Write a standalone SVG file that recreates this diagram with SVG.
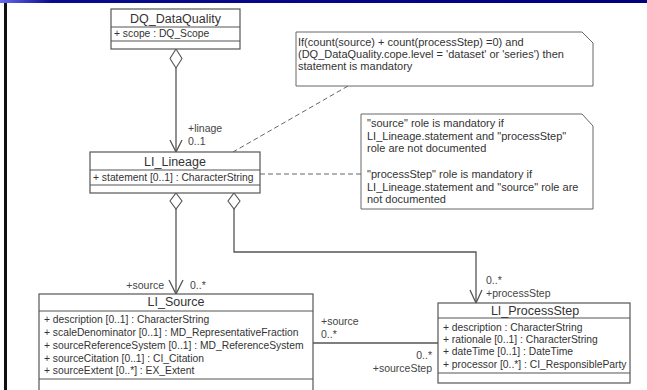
<svg xmlns="http://www.w3.org/2000/svg" width="647" height="390" viewBox="0 0 647 390">
  <style>
    .box { fill: #ffffff; stroke: #555555; stroke-width: 1.2; }
    .div { stroke: #555555; stroke-width: 1.2; fill: none; }
    .title { font-family: "Liberation Sans", Arial, sans-serif; font-size: 12.5px; fill: #333333; text-anchor: middle; }
    .attr { font-family: "Liberation Sans", Arial, sans-serif; font-size: 10.3px; fill: #333333; }
    .note { font-family: "Liberation Sans", Arial, sans-serif; font-size: 11px; fill: #333333; }
    .role { font-family: "Liberation Sans", Arial, sans-serif; font-size: 10.5px; fill: #444444; }
    .end { text-anchor: end; }
    .link { stroke: #555555; stroke-width: 1.3; fill: none; }
    .dash { stroke: #666666; stroke-width: 1; fill: none; stroke-dasharray: 5 3; }
    .diamond { fill: #ffffff; stroke: #555555; stroke-width: 1.1; }
    .notebox { fill: #ffffff; stroke: #666666; stroke-width: 1; }
  </style>
  <defs>
    <linearGradient id="band" x1="0" y1="0" x2="1" y2="0">
      <stop offset="0" stop-color="#6a6af0"/>
      <stop offset="0.08" stop-color="#0a0a8c"/>
      <stop offset="1" stop-color="#00007f"/>
    </linearGradient>
  </defs>

  <rect x="0" y="0" width="647" height="390" fill="#ffffff"/>
  <!-- frame: top band and left rule -->
  <rect x="0" y="0" width="647" height="3" fill="url(#band)"/>
  <rect x="4" y="3" width="3" height="387" fill="#111111"/>

  <!-- connectors -->
  <g id="connectors">
    <!-- DQ_DataQuality to LI_Lineage -->
    <line class="link" x1="176" y1="68" x2="176" y2="152"/>
    <polyline class="link" points="170,140 176,152 182,140"/>
    <path class="diamond" d="M176,49 L182,58.5 L176,68 L170,58.5 Z"/>
    <!-- LI_Lineage to LI_Source -->
    <line class="link" x1="176" y1="209" x2="176" y2="294"/>
    <polyline class="link" points="169,280 176,294 183,280"/>
    <path class="diamond" d="M176,193 L182,201 L176,209 L170,201 Z"/>
    <!-- LI_Lineage to LI_ProcessStep -->
    <polyline class="link" points="234,209 234,252 476,252 476,303"/>
    <polyline class="link" points="470,290 476,303 482,290"/>
    <path class="diamond" d="M234,193 L240,201 L234,209 L228,201 Z"/>
    <!-- LI_Source to LI_ProcessStep -->
    <line class="link" x1="313" y1="343" x2="438" y2="343"/>
    <!-- note anchors -->
    <line class="dash" x1="348" y1="86" x2="233" y2="152"/>
    <line class="dash" x1="260" y1="174" x2="361" y2="174"/>

    <!-- role labels -->
    <text class="role" x="188" y="132">+linage</text>
    <text class="role" x="188" y="145">0..1</text>
    <text class="role end" x="164" y="289">+source</text>
    <text class="role" x="190" y="289">0..*</text>
    <text class="role" x="486" y="284">0..*</text>
    <text class="role" x="486" y="297">+processStep</text>
    <text class="role" x="321" y="325">+source</text>
    <text class="role" x="321" y="338">0..*</text>
    <text class="role end" x="432" y="359">0..*</text>
    <text class="role end" x="432" y="372">+sourceStep</text>
  </g>

  <!-- classes -->
  <g id="DQ_DataQuality">
    <rect class="box" x="111" y="9" width="129" height="40"/>
    <line class="div" x1="111" y1="27" x2="240" y2="27"/>
    <line class="div" x1="111" y1="41" x2="240" y2="41"/>
    <text class="title" x="175.5" y="23">DQ_DataQuality</text>
    <text class="attr" x="114" y="37">+ scope : DQ_Scope</text>
  </g>

  <g id="LI_Lineage">
    <rect class="box" x="90" y="152" width="170" height="41"/>
    <line class="div" x1="90" y1="170" x2="260" y2="170"/>
    <line class="div" x1="90" y1="185" x2="260" y2="185"/>
    <text class="title" x="175" y="166">LI_Lineage</text>
    <text class="attr" x="93" y="181">+ statement [0..1] : CharacterString</text>
  </g>

  <g id="LI_Source">
    <rect class="box" x="39" y="294" width="274" height="100"/>
    <line class="div" x1="39" y1="311" x2="313" y2="311"/>
    <line class="div" x1="39" y1="379" x2="313" y2="379"/>
    <text class="title" x="176" y="306">LI_Source</text>
    <text class="attr" x="44" y="323">+ description [0..1] : CharacterString</text>
    <text class="attr" x="44" y="336">+ scaleDenominator [0..1] : MD_RepresentativeFraction</text>
    <text class="attr" x="44" y="349">+ sourceReferenceSystem [0..1] : MD_ReferenceSystem</text>
    <text class="attr" x="44" y="362">+ sourceCitation [0..1] : CI_Citation</text>
    <text class="attr" x="44" y="374">+ sourceExtent [0..*] : EX_Extent</text>
  </g>

  <g id="LI_ProcessStep">
    <rect class="box" x="438" y="303" width="192" height="80"/>
    <line class="div" x1="438" y1="318" x2="630" y2="318"/>
    <line class="div" x1="438" y1="373" x2="630" y2="373"/>
    <text class="title" x="535" y="315">LI_ProcessStep</text>
    <text class="attr" x="443" y="331">+ description : CharacterString</text>
    <text class="attr" x="443" y="343">+ rationale [0..1] : CharacterString</text>
    <text class="attr" x="443" y="355">+ dateTime [0..1] : DateTime</text>
    <text class="attr" x="443" y="368">+ processor [0..*] : CI_ResponsibleParty</text>
  </g>

  <!-- notes -->
  <g id="note-statement">
    <path class="notebox" d="M296,32 H582 L593,43 V86 H296 Z"/>
    <text class="note" x="298" y="46">If(count(source) + count(processStep) =0) and</text>
    <text class="note" x="298" y="58">(DQ_DataQuality.cope.level = 'dataset' or 'series') then</text>
    <text class="note" x="298" y="70">statement is mandatory</text>
  </g>

  <g id="note-roles">
    <path class="notebox" d="M361,114 H582 L593,126 V209 H361 Z"/>
    <text class="note" x="367" y="127">"source" role is mandatory if</text>
    <text class="note" x="367" y="140">LI_Lineage.statement and "processStep"</text>
    <text class="note" x="367" y="152">role are not documented</text>
    <text class="note" x="367" y="178">"processStep" role is mandatory if</text>
    <text class="note" x="367" y="191">LI_Lineage.statement and "source" role are</text>
    <text class="note" x="367" y="203">not documented</text>
  </g>
</svg>
